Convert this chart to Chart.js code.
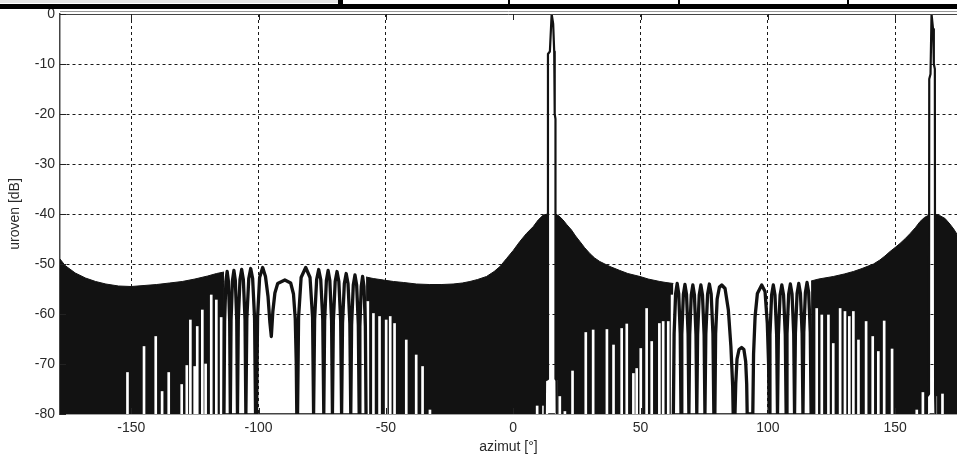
<!DOCTYPE html>
<html><head><meta charset="utf-8">
<script src="https://cdn.jsdelivr.net/npm/chart.js@4/dist/chart.umd.min.js"></script>
<style>
html,body{margin:0;padding:0;background:#fff;overflow:hidden}
#wrap{position:relative;width:957px;height:455px}
canvas{position:absolute;left:0;top:0}
.strip{position:absolute}
</style></head><body>
<div id="wrap">
<canvas id="c" width="957" height="455"></canvas>
<div class="strip" style="left:0;top:0;width:338px;height:3px;background:#e4e4e4"></div>
<div class="strip" style="left:0;top:4px;width:957px;height:5px;background:#000"></div>
<div class="strip" style="left:338px;top:0;width:5px;height:5px;background:#000"></div>
<div class="strip" style="left:508px;top:0;width:2px;height:5px;background:#000"></div>
<div class="strip" style="left:678px;top:0;width:2px;height:5px;background:#000"></div>
<div class="strip" style="left:847px;top:0;width:2px;height:5px;background:#000"></div>
</div>
<script>
// ---- tick values ----
const xTickValues = [-150, -100, -50, 0, 50, 100, 150];
const yTickValues = [-80, -70, -60, -50, -40, -30, -20, -10, 0];

// ---- upper envelope of the unresolved (dense) sidelobe region; null = break ----
const envDeg = [
  -178,-176,-172,-168,-164,-160,-155,-150,-145,-140,-135,-130,-125,-120,-116.5,-113.6,
  -100,
  -57.8,-55,-51,-47,-43,-38,-33,-28,-23.6,-20,-17,-14,-10.5,-7.5,-5.2,-2.6,0,2.6,5.2,7.9,9.8,11.8,13.6,
  15,
  16.6,18,19.6,21,22.9,24.5,26.2,28,30.1,32,34,36,38,41.9,45,49.8,53,57.6,60,62.9,
  90,
  117.0,120,125.7,130,133.6,137,141.5,144,146,148,150,151.9,154,155.9,158,159.8,161.5,163.3,
  164.5,
  165.7,167.5,169.6,171.5,173,175
];
const envDb = [
  -49.0,-50.3,-51.8,-52.8,-53.5,-54.0,-54.4,-54.5,-54.3,-54.1,-53.8,-53.5,-53.0,-52.4,-51.9,-51.6,
  null,
  -52.6,-52.9,-53.2,-53.5,-53.7,-54.0,-54.1,-54.1,-54.0,-53.8,-53.5,-53.1,-52.5,-51.5,-50.5,-48.9,-47.3,-45.5,-43.9,-42.5,-41.2,-40.2,-40.0,
  null,
  -40.0,-40.4,-41.2,-42.1,-43.2,-44.4,-45.5,-46.7,-47.9,-48.8,-49.5,-50.0,-50.5,-51.3,-51.9,-52.5,-53.0,-53.5,-53.7,-53.9,
  null,
  -53.4,-53.0,-52.5,-52.0,-51.5,-50.9,-50.0,-49.2,-48.4,-47.5,-46.7,-45.9,-44.9,-43.9,-42.7,-41.5,-40.7,-40.2,
  null,
  -40.0,-40.3,-40.9,-42.0,-43.0,-44.6
];

// ---- white gaps (null depths) inside the dense region ----
const gapDeg = [
  -151.5,-145.0,-140.4,-137.9,-135.3,-130.2,-128.2,-126.8,-125.1,-124.1,-122.1,-120.8,-118.6,-116.6,-114.7,
  -57.1,-54.9,-52.5,-49.9,-48.3,-46.6,-42.0,-38.1,-35.6,-32.7,
  9.4,11.9,12.7,13.2,16.9,18.3,20.3,
  23.3,28.5,31.4,36.8,39.4,42.6,44.6,47.2,48.5,50.1,52.4,54.4,57.4,58.9,60.9,62.4,
  119.2,121.2,123.8,125.7,128.4,130.3,132.0,133.6,135.6,138.6,141.2,143.4,145.7,148.8,158.5,160.9,
  162.7,163.0,165.95,168.6
];
const gapDb = [
  -71.7,-66.5,-64.5,-75.5,-71.7,-74.1,-70.3,-61.2,-70.5,-62.5,-59.2,-70.0,-56.2,-57.2,-60.7,
  -57.5,-59.9,-60.5,-61.2,-60.5,-61.9,-65.2,-68.2,-70.5,-79.2,
  -78.4,-78.4,-73.3,-73.3,-73.3,-76.5,-79.5,
  -71.4,-63.7,-63.2,-63.1,-66.2,-62.9,-62.0,-71.9,-70.9,-66.9,-58.9,-65.5,-61.9,-61.5,-61.5,-56.2,
  -58.9,-60.2,-60.2,-65.9,-58.9,-59.5,-60.5,-59.5,-65.2,-61.5,-64.5,-67.5,-61.4,-67.0,-79.2,-75.7,
  -76.5,-76.5,-76.5,-76.0
];

// ---- resolved sidelobes around -90 deg: [deg, dB] ----
const lobesLeft = [
  [-113.6,-80],
  [-113.35,-61.5],[-112.85,-53.5],[-112.35,-51.5],[-111.85,-53.5],[-111.35,-61.5],[-111.1,-80],
  [-110.82,-61.3],[-110.26,-53.3],[-109.7,-51.3],[-109.14,-53.3],[-108.58,-61.3],[-108.3,-80],
  [-107.97,-61.1],[-107.31,-53.1],[-106.65,-51.1],[-105.99,-53.1],[-105.33,-61.1],[-105.0,-80],
  [-104.62,-60.9],[-103.86,-52.9],[-103.1,-50.9],[-102.34,-52.9],[-101.58,-60.9],[-101.2,-80],
  [-100.8,-80],[-100.4,-60.7],[-99.6,-52.7],[-98.4,-50.7],[-97.3,-52.5],[-96.3,-56.5],[-95.6,-61.5],[-95.0,-64.5],
  [-94.4,-59.5],[-93.6,-55.8],[-92.5,-53.9],[-89.7,-53.2],[-87.4,-53.8],[-86.3,-56.0],[-85.6,-61.0],[-85.2,-70],[-85.0,-80],
  [-84.7,-80],[-84.3,-60.7],[-83.3,-52.7],[-81.5,-50.7],[-79.8,-52.7],[-78.8,-60.7],[-78.4,-80],
  [-78.0,-61.1],[-77.2,-53.1],[-76.4,-51.1],[-75.6,-53.1],[-74.8,-61.1],[-74.4,-80],
  [-74.06,-61.3],[-73.38,-53.3],[-72.7,-51.3],[-72.02,-53.3],[-71.34,-61.3],[-71.0,-80],
  [-70.64,-61.5],[-69.92,-53.5],[-69.2,-51.5],[-68.48,-53.5],[-67.76,-61.5],[-67.4,-80],
  [-67.04,-61.9],[-66.32,-53.9],[-65.6,-51.9],[-64.88,-53.9],[-64.16,-61.9],[-63.8,-80],
  [-63.47,-62.2],[-62.81,-54.2],[-62.15,-52.2],[-61.49,-54.2],[-60.83,-62.2],[-60.5,-80],
  [-60.23,-62.5],[-59.69,-54.5],[-59.15,-52.5],[-58.61,-54.5],[-58.07,-62.5],[-57.8,-80]
];

// ---- resolved sidelobes around +90 deg: [deg, dB] ----
const lobesRight = [
  [62.9,-80],
  [63.2,-63.9],[63.8,-55.9],[64.4,-53.9],[65.0,-55.9],[65.6,-63.9],[65.9,-80],
  [66.21,-64.1],[66.83,-56.1],[67.45,-54.1],[68.07,-56.1],[68.69,-64.1],[69.0,-80],
  [69.31,-64.2],[69.93,-56.2],[70.55,-54.2],[71.17,-56.2],[71.79,-64.2],[72.1,-80],
  [72.42,-64.2],[73.06,-56.2],[73.7,-54.2],[74.34,-56.2],[74.98,-64.2],[75.3,-80],
  [75.65,-64.0],[76.35,-56.0],[77.05,-54.0],[77.75,-56.0],[78.45,-64.0],[78.8,-80],
  [79.2,-80],[79.5,-64],[80.1,-57],[81.0,-54.6],[81.9,-54.2],[83.2,-54.9],[84.5,-59.2],[85.5,-66.5],[86.2,-74.5],[86.4,-80],
  [87.1,-80],[87.4,-74],[87.9,-69],[88.7,-67.1],[89.7,-66.7],[90.6,-67.1],[91.3,-69.5],[91.7,-74],[91.9,-80],
  [94.1,-80],[94.4,-68],[95.0,-60.5],[95.9,-55.9],[97.6,-54.2],[98.9,-55.5],[99.8,-61.9],[100.3,-70],[100.5,-80],
  [100.83,-64.2],[101.49,-56.2],[102.15,-54.2],[102.81,-56.2],[103.47,-64.2],[103.8,-80],
  [104.14,-64.2],[104.82,-56.2],[105.5,-54.2],[106.18,-56.2],[106.86,-64.2],[107.2,-80],
  [107.53,-64.0],[108.19,-56.0],[108.85,-54.0],[109.51,-56.0],[110.17,-64.0],[110.5,-80],
  [110.83,-63.9],[111.49,-55.9],[112.15,-53.9],[112.81,-55.9],[113.47,-63.9],[113.8,-80],
  [114.12,-63.7],[114.76,-55.7],[115.4,-53.7],[116.04,-55.7],[116.68,-63.7],[117.0,-80]
];

// ---- main beams at 15 deg and 164.5 deg ----
const beamDeg = [12.4,12.5,13.65,13.65,14.4,15.1,15.7,16.1,16.3,16.6,16.6,17.0,17.1,
  90,
  162.4,162.5,163.3,163.4,163.9,164.3,164.9,165.2,165.6,165.7,165.8,165.9];
const beamDb = [-80,-73.3,-73.0,-8,-7.5,0,-2,-7.5,-20,-21,-73,-73.3,-80,
  null,
  -80,-76.5,-76,-13,-12,0,-3,-10,-11,-76,-76.5,-80];

const pts = (xs, ys) => xs.map((x, i) => ({x, y: ys[i]}));
const pairPts = arr => arr.map(p => ({x: p[0], y: p[1]}));
const lobeData = pairPts(lobesLeft).concat([{x: 0, y: null}], pairPts(lobesRight));
const FONT = '"Liberation Sans", Arial, Helvetica, sans-serif';
Chart.defaults.font.family = FONT;

const frame = {
  id: 'frame',
  afterDraw(chart) {
    const {ctx, chartArea: a, scales: {x, y}} = chart;
    ctx.save();
    ctx.lineWidth = 1;
    ctx.strokeStyle = '#9a9a9a';
    ctx.beginPath(); ctx.moveTo(a.left, 11.5); ctx.lineTo(a.right, 11.5); ctx.stroke();
    ctx.strokeStyle = '#444';
    ctx.beginPath(); ctx.moveTo(a.left, a.top + 0.5); ctx.lineTo(a.right, a.top + 0.5); ctx.stroke();
    ctx.strokeStyle = '#222';
    yTickValues.forEach(v => {
      const py = Math.round(y.getPixelForValue(v)) + 0.5;
      ctx.beginPath(); ctx.moveTo(a.left, py); ctx.lineTo(a.left + 6, py); ctx.stroke();
    });
    xTickValues.forEach(v => {
      const px = Math.round(x.getPixelForValue(v)) + 0.5;
      ctx.beginPath();
      ctx.moveTo(px, a.bottom); ctx.lineTo(px, a.bottom - 6);
      ctx.moveTo(px, a.top); ctx.lineTo(px, a.top + 6);
      ctx.stroke();
    });
    ctx.restore();
  }
};

const gridColor = c => (c.tick && (c.tick.value === -80 || c.tick.value === 0)) ? 'rgba(0,0,0,0)' : '#1a1a1a';

new Chart(document.getElementById('c'), {
  type: 'line',
  data: {
    datasets: [
      {type: 'line', label: 'envelope', data: pts(envDeg, envDb), borderColor: '#121212', backgroundColor: '#121212',
       borderWidth: 1, fill: 'start', pointRadius: 0, tension: 0, spanGaps: false, order: 3},
      {type: 'bar', label: 'gaps', data: gapDeg.map((x, i) => ({x, y: [-80, gapDb[i]]})), backgroundColor: '#ffffff',
       borderWidth: 0, barThickness: 2, grouped: false, order: 2},
      {type: 'line', label: 'lobes', data: lobeData, borderColor: '#121212', borderWidth: 3.3,
       fill: false, pointRadius: 0, tension: 0, spanGaps: false, borderJoinStyle: 'round', order: 1},
      {type: 'line', label: 'beams', data: pts(beamDeg, beamDb), borderColor: '#121212', borderWidth: 2.2,
       fill: false, pointRadius: 0, tension: 0, spanGaps: false, borderJoinStyle: 'round', order: 0}
    ]
  },
  options: {
    responsive: false, animation: false, devicePixelRatio: 1,
    layout: {padding: {top: 14, left: 0, right: 0, bottom: 0}},
    plugins: {legend: {display: false}, tooltip: {enabled: false}},
    events: [],
    scales: {
      x: {
        type: 'linear', min: -178, max: 174.3, offset: false, z: 1,
        afterBuildTicks: s => { s.ticks = xTickValues.map(v => ({value: v})); },
        afterFit: s => { s.height = 41; },
        grid: {color: gridColor, lineWidth: 1, drawTicks: false, offset: false},
        border: {display: true, color: '#444', width: 1.5, dash: [3, 3]},
        ticks: {padding: 6, color: '#2a2a2a', font: {size: 14}, maxRotation: 0, autoSkip: false, callback: v => String(v)},
        title: {display: true, text: 'azimut [°]', color: '#2a2a2a', font: {size: 14}, padding: {top: 0, bottom: -1}}
      },
      y: {
        type: 'linear', min: -80, max: 0, z: 1,
        afterBuildTicks: s => { s.ticks = yTickValues.map(v => ({value: v})); },
        afterFit: s => { s.width = 60; },
        grid: {color: gridColor, lineWidth: 1, drawTicks: false},
        border: {display: true, color: '#444', width: 1.5, dash: [3, 3]},
        ticks: {padding: 5, color: '#2a2a2a', font: {size: 14}, autoSkip: false, callback: v => String(v)},
        title: {display: true, text: 'uroven [dB]', color: '#2a2a2a', font: {size: 14}, padding: {top: 6.6, bottom: 0}}
      }
    }
  },
  plugins: [frame]
});
</script>
</body></html>
